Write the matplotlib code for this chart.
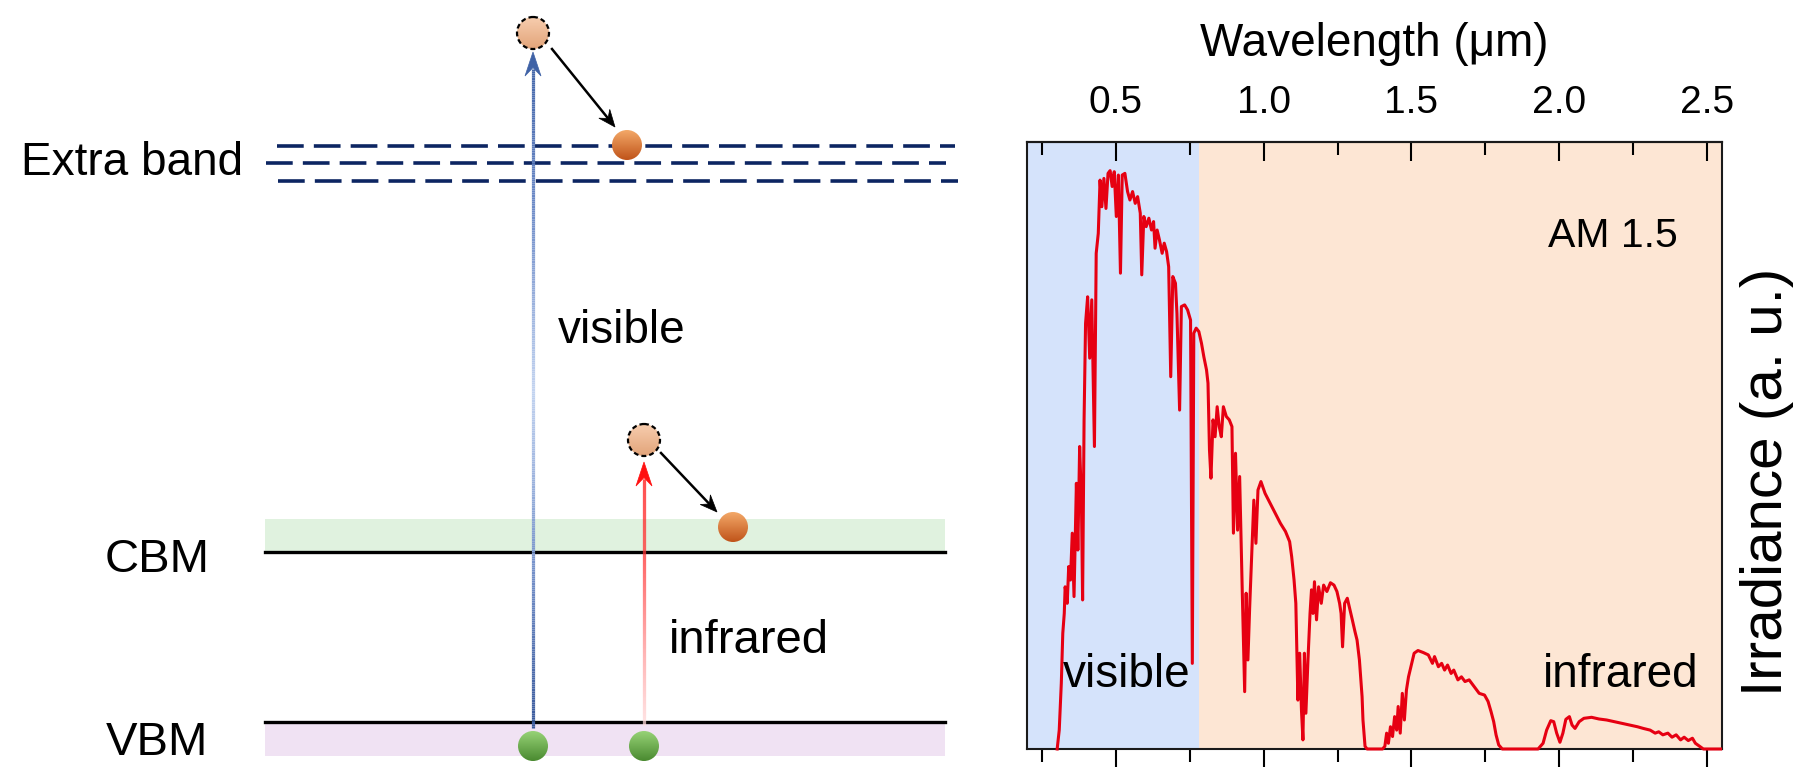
import numpy as np
import matplotlib
matplotlib.use('Agg')
import matplotlib.pyplot as plt
from matplotlib.patches import Circle, Polygon, Rectangle
from matplotlib.collections import LineCollection
from matplotlib.colors import LinearSegmentedColormap, to_rgb

plt.rcParams['font.family'] = ['Liberation Sans', 'DejaVu Sans']

# AM 1.5 spectrum (wavelength in um, irradiance in a.u.)
wavelength = [
    0.302, 0.309, 0.316, 0.321, 0.326, 0.329, 0.336, 0.341, 0.347, 0.353,
    0.359, 0.364, 0.367, 0.372, 0.378, 0.384, 0.388, 0.393, 0.398, 0.405,
    0.412, 0.419, 0.428, 0.434, 0.441, 0.447, 0.453, 0.460, 0.467, 0.474,
    0.481, 0.488, 0.495, 0.502, 0.509, 0.516, 0.522, 0.531, 0.540, 0.548,
    0.557, 0.566, 0.574, 0.583, 0.588, 0.595, 0.603, 0.612, 0.621, 0.628,
    0.633, 0.640, 0.648, 0.657, 0.664, 0.672, 0.679, 0.686, 0.693, 0.702,
    0.707, 0.716, 0.722, 0.733, 0.743, 0.753, 0.759, 0.764, 0.772, 0.781,
    0.790, 0.798, 0.807, 0.812, 0.817, 0.822, 0.829, 0.836, 0.843, 0.850,
    0.857, 0.864, 0.874, 0.884, 0.893, 0.898, 0.905, 0.912, 0.919, 0.928,
    0.936, 0.941, 0.947, 0.953, 0.962, 0.967, 0.974, 0.981, 0.991, 1.005,
    1.022, 1.040, 1.057, 1.074, 1.088, 1.095, 1.103, 1.109, 1.116, 1.122,
    1.128, 1.133, 1.138, 1.143, 1.150, 1.157, 1.162, 1.167, 1.172, 1.179,
    1.186, 1.195, 1.203, 1.214, 1.226, 1.238, 1.248, 1.257, 1.262, 1.267,
    1.274, 1.283, 1.291, 1.300, 1.309, 1.316, 1.324, 1.333, 1.336, 1.343,
    1.350, 1.402, 1.410, 1.416, 1.422, 1.429, 1.436, 1.443, 1.450, 1.455,
    1.462, 1.469, 1.476, 1.483, 1.490, 1.498, 1.509, 1.522, 1.540, 1.557,
    1.571, 1.578, 1.591, 1.602, 1.612, 1.622, 1.634, 1.643, 1.657, 1.669,
    1.681, 1.695, 1.712, 1.729, 1.747, 1.759, 1.769, 1.778, 1.786, 1.795,
    1.807, 1.928, 1.945, 1.957, 1.971, 1.981, 1.991, 2.002, 2.012, 2.022,
    2.034, 2.043, 2.053, 2.067, 2.083, 2.109, 2.134, 2.160, 2.186, 2.212,
    2.238, 2.264, 2.284, 2.307, 2.324, 2.336, 2.350, 2.367, 2.381, 2.395,
    2.410, 2.422, 2.436, 2.450, 2.460, 2.474, 2.487, 2.545,
]
irradiance = [
    0.000, 0.056, 0.195, 0.343, 0.402, 0.481, 0.432, 0.541, 0.501, 0.640,
    0.452, 0.659, 0.788, 0.590, 0.897, 0.738, 0.442, 0.976, 1.262, 1.341,
    1.159, 1.332, 0.897, 1.470, 1.529, 1.687, 1.608, 1.692, 1.603, 1.707,
    1.715, 1.668, 1.712, 1.579, 1.702, 1.411, 1.702, 1.707, 1.653, 1.628,
    1.653, 1.618, 1.638, 1.589, 1.406, 1.579, 1.549, 1.574, 1.539, 1.564,
    1.485, 1.539, 1.509, 1.470, 1.500, 1.475, 1.430, 1.104, 1.401, 1.381,
    1.292, 1.005, 1.312, 1.317, 1.302, 1.272, 0.254, 1.233, 1.248, 1.238,
    1.203, 1.163, 1.124, 1.085, 0.887, 0.803, 0.976, 0.926, 1.015, 0.956,
    0.926, 1.015, 0.986, 0.976, 0.956, 0.640, 0.877, 0.649, 0.808, 0.462,
    0.170, 0.462, 0.264, 0.422, 0.620, 0.738, 0.610, 0.768, 0.793, 0.758,
    0.729, 0.699, 0.669, 0.645, 0.615, 0.570, 0.501, 0.432, 0.145, 0.284,
    0.116, 0.027, 0.284, 0.106, 0.264, 0.402, 0.472, 0.402, 0.496, 0.383,
    0.481, 0.432, 0.486, 0.467, 0.493, 0.486, 0.467, 0.432, 0.402, 0.303,
    0.432, 0.447, 0.417, 0.383, 0.348, 0.323, 0.264, 0.155, 0.086, 0.008,
    0.000, 0.000, 0.008, 0.047, 0.017, 0.066, 0.037, 0.096, 0.056, 0.126,
    0.047, 0.165, 0.086, 0.175, 0.214, 0.244, 0.284, 0.292, 0.286, 0.279,
    0.254, 0.274, 0.244, 0.254, 0.234, 0.249, 0.224, 0.234, 0.205, 0.214,
    0.200, 0.205, 0.185, 0.165, 0.160, 0.141, 0.111, 0.081, 0.042, 0.012,
    0.000, 0.000, 0.017, 0.056, 0.084, 0.081, 0.047, 0.020, 0.047, 0.088,
    0.096, 0.071, 0.061, 0.081, 0.091, 0.094, 0.089, 0.086, 0.081, 0.076,
    0.071, 0.066, 0.061, 0.056, 0.047, 0.051, 0.042, 0.047, 0.035, 0.042,
    0.027, 0.035, 0.025, 0.032, 0.017, 0.008, 0.000, 0.000,
]

major_ticks = [0.5, 1.0, 1.5, 2.0, 2.5]
major_labels = ['0.5', '1.0', '1.5', '2.0', '2.5']
minor_ticks = [0.25, 0.75, 1.25, 1.75, 2.25]
visible_edge = 0.78
x_range = (0.2, 2.55)
y_range = (0, 1.8)

# left sketch, in pixel units of the figure
extra_rows = [146, 163, 181]
extra_spans = [(277, 955), (266, 946), (278, 958)]
band_left, band_right = 265, 945
cbm_row, vbm_row = 552, 722
band_depth = 33
visible_x, infrared_x = 533, 644


def ball(ax, x, y, r, top, bottom, dashed=False):
    cmap = LinearSegmentedColormap.from_list('ball', [top, bottom])
    grad = np.linspace(0, 1, 64).reshape(-1, 1)
    im = ax.imshow(grad, cmap=cmap, extent=(x - r, x + r, y + r, y - r),
                   origin='upper', aspect='auto', zorder=5, interpolation='bilinear')
    clip = Circle((x, y), r, facecolor='none', edgecolor='none')
    ax.add_patch(clip)
    im.set_clip_path(clip)
    if dashed:
        ax.add_patch(Circle((x, y), r, fill=False, edgecolor='black', lw=1.6,
                            linestyle=(0, (2.2, 1.4)), zorder=6))


def head(ax, x0, y0, x1, y1, length, width, color):
    d = np.array([x1 - x0, y1 - y0], float)
    d /= np.hypot(*d)
    p = np.array([-d[1], d[0]])
    tip = np.array([x1, y1], float)
    base = tip - d * length
    notch = tip - d * length * 0.65
    ax.add_patch(Polygon([tip, base + p * width / 2, notch, base - p * width / 2],
                         closed=True, facecolor=color, edgecolor=color, lw=0.5, zorder=4))
    return notch


def shaft(ax, x, y0, y1, stops, lw):
    ys = np.linspace(y0, y1, 300)
    pos = [s[0] for s in stops]
    cols = np.array([to_rgb(s[1]) for s in stops])
    mid = (ys[:-1] + ys[1:]) / 2
    rgb = np.column_stack([np.interp(mid, pos, cols[:, k]) for k in range(3)])
    segs = [[(x, ys[i]), (x, ys[i + 1])] for i in range(len(ys) - 1)]
    ax.add_collection(LineCollection(segs, colors=rgb, linewidths=lw, zorder=3,
                                     capstyle='butt'))


fig = plt.figure(figsize=(18, 7.67), dpi=100)

# ---- left: band diagram ----
ax0 = fig.add_axes([0, 0, 1000 / 1800, 1])
ax0.axis('off')

for row, (a, b) in zip(extra_rows, extra_spans):
    ax0.plot([a, b], [row, row], color='#0c2562', lw=2.6, dashes=(7.4, 2.8), zorder=2)

ax0.add_patch(Rectangle((band_left, cbm_row - band_depth), band_right - band_left,
                        band_depth, facecolor='#e0f2df', edgecolor='none', zorder=1))
ax0.add_patch(Rectangle((band_left, vbm_row), band_right - band_left, band_depth + 1,
                        facecolor='#f0e2f3', edgecolor='none', zorder=1))
ax0.plot([band_left, band_right], [cbm_row, cbm_row], color='black', lw=2.4, zorder=2)
ax0.plot([band_left, band_right], [vbm_row, vbm_row], color='black', lw=2.4, zorder=2)

# visible excitation (blue) up to the extra band
n = head(ax0, visible_x, 400, visible_x, 52, 24, 16, '#3f62a6')
shaft(ax0, visible_x, 728, n[1] + 1,
      [(52, '#3f62a6'), (200, '#6a88c6'), (390, '#c2d3f0'), (560, '#7894cc'), (728, '#37579a')], 2.3)
# infrared excitation (red) up to the CBM
n = head(ax0, infrared_x, 600, infrared_x, 462, 24, 16, '#ff1111')
shaft(ax0, infrared_x, 725, n[1] + 1,
      [(462, '#ff1111'), (560, '#ff3a3a'), (650, '#ff9a9a'), (725, '#ffdede')], 2.3)

# relaxation arrows
n = head(ax0, 552, 49, 615, 127, 17, 14, 'black')
ax0.plot([552, n[0]], [49, n[1]], color='black', lw=1.8, zorder=3)
n = head(ax0, 661, 453, 717, 512, 17, 14, 'black')
ax0.plot([661, n[0]], [453, n[1]], color='black', lw=1.8, zorder=3)

ball(ax0, visible_x, 33, 16, '#f7cdae', '#e2a47a', dashed=True)
ball(ax0, infrared_x, 440, 16, '#f7cdae', '#e2a47a', dashed=True)
ball(ax0, 627, 145, 15, '#f3a868', '#c0541a')
ball(ax0, 733, 527, 15, '#f3a868', '#c0541a')
ball(ax0, visible_x, 746, 15, '#96d276', '#4a8a30')
ball(ax0, infrared_x, 746, 15, '#96d276', '#4a8a30')

ax0.text(21, 175, 'Extra band', fontsize=33, ha='left', va='baseline')
ax0.text(157, 572, 'CBM', fontsize=34, ha='center', va='baseline')
ax0.text(157, 755, 'VBM', fontsize=34, ha='center', va='baseline')
ax0.text(558, 343, 'visible', fontsize=33, ha='left', va='baseline')
ax0.text(669, 653, 'infrared', fontsize=34, ha='left', va='baseline')

ax0.set_xlim(0, 1000)
ax0.set_ylim(767, 0)

# ---- right: AM 1.5 spectrum ----
ax = fig.add_axes([1027 / 1800, 18 / 767, 695 / 1800, 607 / 767])
ax.axvspan(x_range[0], visible_edge, color='#d5e3fb', lw=0, zorder=0)
ax.axvspan(visible_edge, x_range[1], color='#fde6d4', lw=0, zorder=0)
ax.plot(wavelength, irradiance, color='#e60012', lw=2.2, zorder=3, clip_on=False)
ax.set_xlim(*x_range)
ax.set_ylim(*y_range)

ax.set_xticks(major_ticks)
ax.set_xticks(minor_ticks, minor=True)
ax.set_xticklabels([])
ax.tick_params(axis='x', which='both', direction='out', width=1.5, bottom=True, top=False,
               labelbottom=False)
ax.tick_params(axis='x', which='major', length=13)
ax.tick_params(axis='x', which='minor', length=9)
ax.set_yticks([])
for s in ax.spines.values():
    s.set_linewidth(1.5)
    s.set_color('#1a1a1a')

sec = ax.secondary_xaxis('top')
sec.set_xticks(major_ticks)
sec.set_xticklabels(major_labels)
sec.set_xticks(minor_ticks, minor=True)
sec.tick_params(which='both', direction='in', width=1.5, labelsize=28, pad=15)
sec.tick_params(which='major', length=14)
sec.tick_params(which='minor', length=9)
sec.spines['top'].set_linewidth(1.5)
sec.set_xlabel('Wavelength (μm)', fontsize=33, labelpad=21)

fig.text(1740 / 1800, 1 - 482 / 767, 'Irradiance (a. u.)', fontsize=42, rotation=90,
         ha='left', va='center')

ax.text(0.749, 0.827, 'AM 1.5', fontsize=29.5, transform=ax.transAxes, va='baseline')
ax.text(0.052, 0.102, 'visible', fontsize=33, transform=ax.transAxes, va='baseline')
ax.text(0.742, 0.102, 'infrared', fontsize=33, transform=ax.transAxes, va='baseline')

fig.savefig('out.png', dpi=100)
